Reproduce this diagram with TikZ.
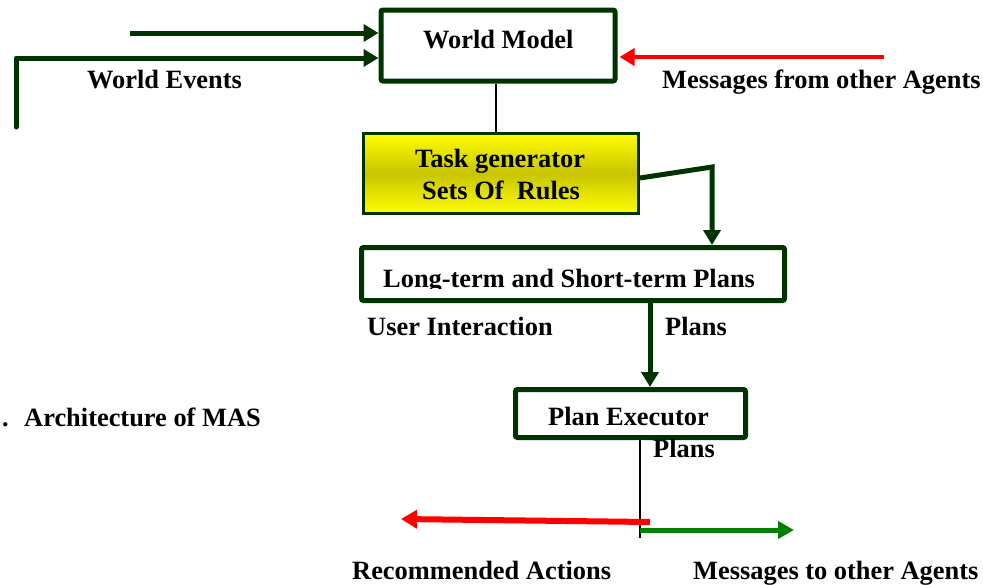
\documentclass[tikz,border=0pt]{standalone}
\usepackage{fontspec}
\setmainfont{Liberation Serif}
\usetikzlibrary{arrows.meta}
\definecolor{dgreen}{RGB}{0,51,0}
\definecolor{mgreen}{RGB}{0,128,0}
\definecolor{olive1}{RGB}{200,196,0}
\tikzset{
  box/.style={draw=dgreen, line width=5pt, rounded corners=2pt, fill=white, inner sep=0pt},
  lbl/.style={anchor=base west, inner sep=0pt, font=\fontsize{26.4}{30}\selectfont\bfseries},
  garrow/.style={draw=dgreen, line width=5pt, line join=round, line cap=round, -{Triangle[length=15pt,width=17pt]}},
  rarrow/.style={draw=red, line width=5pt, -{Triangle[length=15pt,width=17pt]}},
}
\begin{document}
\begin{tikzpicture}[x=1pt,y=-1pt]
\useasboundingbox (0,0) rectangle (983,584);
% boxes
\node[box, minimum width=234pt, minimum height=71pt] (wm) at (498,45.5) {};
\node[draw=dgreen, line width=3pt, inner sep=0pt, minimum width=275pt, minimum height=80pt,
      top color=yellow, bottom color=yellow, middle color=olive1] (tg) at (501,173.5) {};
\node[box, minimum width=423pt, minimum height=53pt] (lt) at (573,274) {};
\node[box, minimum width=230pt, minimum height=48pt] (pe) at (630.5,413.5) {};
% texts in boxes
\node[lbl] (wmt) at (423,48) {World Model};
\node[lbl] (tgt1) at (415,167) {Task generator};
\node[lbl] (tgt2) at (422,199) {Sets Of~ Rules};
\begin{scope}
\clip (362,250) rectangle (784,288);
\node[lbl] (ltt) at (383,287) {Long-term and Short-term Plans};
\end{scope}
\node[lbl] (pet) at (548,425) {Plan Executor};
% other labels
\node[lbl] (we) at (87,88) {World Events};
\node[lbl] (mfa) at (662,88) {Messages from other Agents};
\node[lbl] (ui) at (367,335) {User Interaction};
\node[lbl] (pl1) at (665,335) {Plans};
\node[lbl] (pl2) at (653,457) {Plans};
\node[lbl] (arch) at (2,426) {.~ Architecture of MAS};
\node[lbl] (ra) at (352,579) {Recommended Actions};
\node[lbl] (mta) at (693,579) {Messages to other Agents};
% free ends
\coordinate (e1) at (130,33);
\coordinate (e2) at (16,127);
\coordinate (e3) at (884,57);
\coordinate (tgout) at (712,167);
\coordinate (vend) at (640,538);
\coordinate (rs) at (650,522);
\coordinate (re) at (401,519);
\coordinate (gs) at (640,530);
\coordinate (ge) at (794,530);
% connectors
\draw[garrow, line cap=butt] (e1) -- (e1 -| wm.west);
\draw[garrow] (e2) -- (16,58) -- (wm.west |- 0,58);
\draw[rarrow, line width=4.5pt] (e3) -- ([xshift=2pt]wm.east |- e3);
\draw[black, line width=1.5pt] (wm.south -| 496,0) -- (tg.north -| 496,0);
\draw[garrow, line cap=butt, line join=miter] (tg.east |- 0,178) -- (tgout) -- (tgout |- lt.north);
\draw[garrow, line cap=butt] (lt.south -| 650,0) -- (pe.north -| 650,0);
\draw[black, line width=1.5pt] (pe.south -| vend) -- (vend);
\draw[rarrow, line width=6pt, -{Triangle[length=16pt,width=18pt]}] (rs) -- (re);
\draw[draw=mgreen, line width=5pt, -{Triangle[length=16pt,width=17pt]}] (gs) -- (ge);
\end{tikzpicture}
\end{document}
